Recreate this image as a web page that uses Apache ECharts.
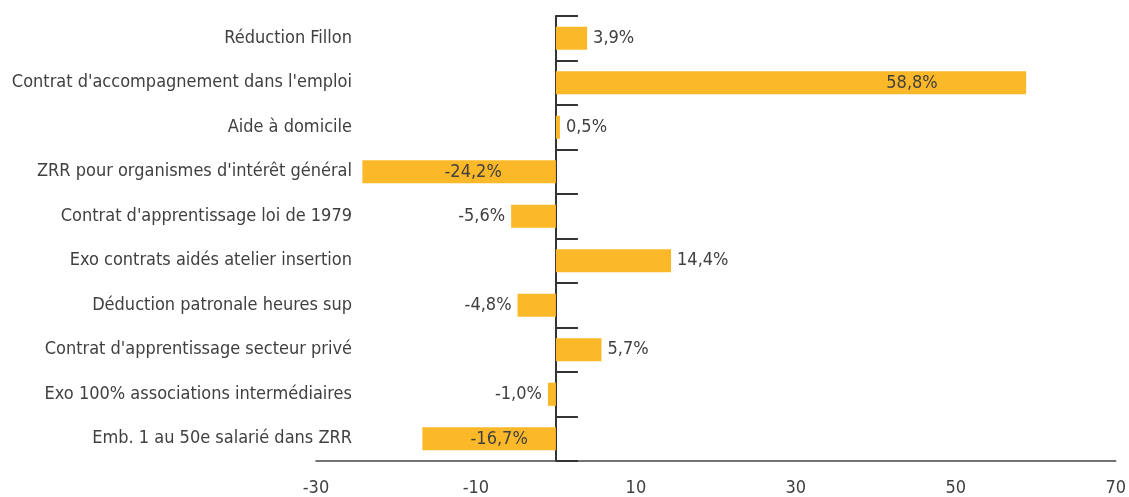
<!DOCTYPE html>
<html>
<head>
<meta charset="utf-8">
<script src="https://cdn.jsdelivr.net/npm/echarts@6/dist/echarts.min.js"></script>
<style>html,body{margin:0;padding:0;background:#fff}#c{width:1129px;height:497px}</style>
</head>
<body>
<div id="c"></div>
<script>
const categories = [
  "Réduction Fillon",
  "Contrat d'accompagnement dans l'emploi",
  "Aide à domicile",
  "ZRR pour organismes d'intérêt général",
  "Contrat d'apprentissage loi de 1979",
  "Exo contrats aidés atelier insertion",
  "Déduction patronale heures sup",
  "Contrat d'apprentissage secteur privé",
  "Exo 100% associations intermédiaires",
  "Emb. 1 au 50e salarié dans ZRR"
];
const values = [3.9, 58.8, 0.5, -24.2, -5.6, 14.4, -4.8, 5.7, -1.0, -16.7];
const xTicks = [-30, -10, 10, 30, 50, 70];

// label placement (style only)
const insideOffsets = { 1: 121, 3: 14, 9: 10 };
const FONT = "'Liberation Sans Narrow', 'DejaVu Sans Condensed', sans-serif";
const fmt = v => v.toFixed(1).replace('.', ',') + '%';

const data = values.map((v, i) => {
  let label;
  if (insideOffsets[i] !== undefined) {
    label = { position: 'inside', offset: [insideOffsets[i], 1] };
  } else {
    label = { position: v >= 0 ? 'right' : 'left', distance: 6 };
  }
  return { value: v, label };
});

const chart = echarts.init(document.getElementById('c'));
chart.setOption({
  animation: false,
  grid: { left: 316, right: 12, top: 16, bottom: 36, containLabel: false },
  xAxis: {
    type: 'value', min: -30, max: 70, interval: 20,
    axisLine: { show: true, onZero: false, lineStyle: { color: '#444', width: 1.5 } },
    axisTick: { show: false },
    splitLine: { show: false },
    axisLabel: {
      margin: 18, fontSize: 18, color: '#404040', fontFamily: FONT,
      formatter: v => xTicks.includes(v) ? String(v) : ''
    }
  },
  yAxis: [
    {
      type: 'category', data: categories, inverse: true,
      axisLine: { show: true, onZero: true, lineStyle: { color: '#333', width: 2 } },
      axisTick: { show: true, inside: true, length: 22, lineStyle: { color: '#333', width: 2 } },
      axisLabel: { show: false }
    },
    {
      type: 'category', data: categories, inverse: true, position: 'left',
      axisLine: { show: false }, axisTick: { show: false },
      axisLabel: { margin: -36, fontSize: 18, color: '#404040', fontFamily: FONT }
    }
  ],
  series: [{
    type: 'bar', data: data, barWidth: '52%', yAxisIndex: 0,
    itemStyle: { color: '#FBB829' },
    label: {
      show: true, fontSize: 18, color: '#404040', fontFamily: FONT,
      formatter: p => fmt(p.value)
    }
  }]
});
</script>
</body>
</html>
